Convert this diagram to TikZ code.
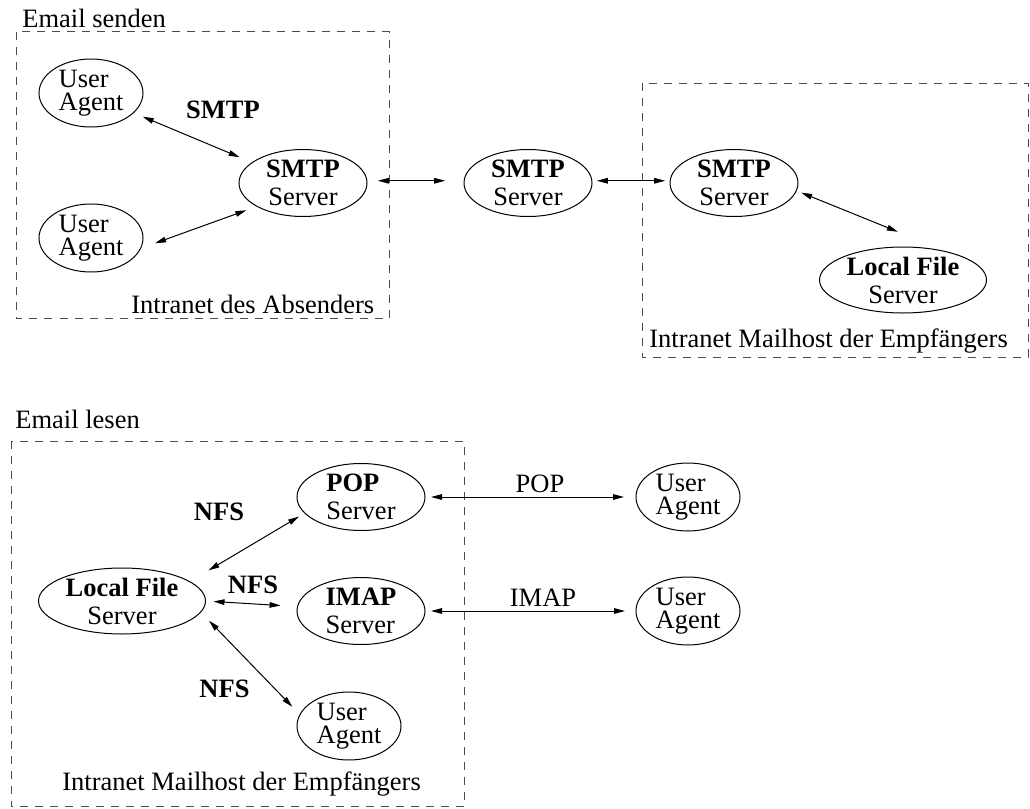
\documentclass[tikz,border=0pt]{standalone}
\usepackage{fontspec}
\setmainfont{Liberation Serif}
\usetikzlibrary{arrows.meta,shapes.geometric}

\begin{document}
\begin{tikzpicture}[x=0.5pt, y=-0.5pt,
  font=\fontsize{13.25pt}{11.7pt}\selectfont,
  oval/.style={ellipse, draw, line width=0.5pt, inner sep=0pt, outer sep=0pt},
  agent/.style={oval, minimum width=52pt, minimum height=34pt, align=left},
  server/.style={oval, minimum width=64pt, minimum height=33.5pt, align=center},
  mailbox/.style={server, align=left},
  filesrv/.style={oval, minimum width=83.5pt, minimum height=33pt, align=center},
  zone/.style={draw=black!70, line width=0.5pt, dash pattern=on 4pt off 3.5pt},
  link/.style={line width=0.5pt, {Triangle[length=5.5pt,width=2.8pt]}-{Triangle[length=5.5pt,width=2.8pt]}},
  proto/.style={anchor=base, inner sep=0pt},
  boxlabel/.style={anchor=base west, inner sep=0pt}
]
\useasboundingbox (0,0) rectangle (1030,809);

\draw[zone] (16,31.5) rectangle (389,318);
\node[boxlabel] (sendtitle) at (22,27) {Email senden};
\node[boxlabel] (sendzone) at (131,313) {Intranet des Absenders};

\node[agent] (ua1) at (91,93) {User\\Agent};
\node[agent] (ua2) at (91,238) {User\\Agent};
\node[server] (smtpa) at (303,183) {\textbf{SMTP}\\[2.3pt]Server};
\node[server] (smtpb) at (528,183) {\textbf{SMTP}\\[2.3pt]Server};
\node[server] (smtpc) at (734,183) {\textbf{SMTP}\\[2.3pt]Server};
\node[filesrv] (lfsa) at (903,280) {\textbf{Local File}\\[2.3pt]Server};
\node[proto] (smtplbl) at (223,118) {\textbf{SMTP}};

\draw[zone] (642,83) rectangle (1028,357);
\node[boxlabel] (recvzone) at (649,347) {Intranet Mailhost der Empfängers};

\draw[link, shorten <=5.1pt, shorten >=6.9pt] (ua1.-25) -- (smtpa.158);
\draw[link, shorten <=7.75pt, shorten >=5.7pt] (ua2.-12) -- (smtpa.-153.5);
\draw[link, shorten <=5.5pt, shorten >=9.5pt] (smtpa.2) -- (smtpb.178);
\draw[link, shorten <=2.5pt, shorten >=2.5pt] (smtpb.2) -- (smtpc.178);
\draw[link, shorten <=2.65pt, shorten >=27.5pt] (smtpc.-7) -- (lfsa.31);

\draw[zone] (11,441) rectangle (464,806.5);
\node[boxlabel] (readtitle) at (15,428) {Email lesen};
\node[boxlabel] (readzone) at (62,790) {Intranet Mailhost der Empfängers};

\node[filesrv] (lfsb) at (122,601) {\textbf{Local File}\\[2.3pt]Server};
\node[mailbox] (pop) at (361,497) {\textbf{POP}\\[2.3pt]Server};
\node[mailbox] (imap) at (361,611) {\textbf{IMAP}\\[2.3pt]Server};
\node[agent] (ua3) at (349,726) {User\\Agent};
\node[agent] (ua4) at (688,497) {User\\Agent};
\node[agent] (ua5) at (688,611) {User\\Agent};
\node[proto] (nfsa) at (219,520) {\textbf{NFS}};
\node[proto] (nfsb) at (253,593) {\textbf{NFS}};
\node[proto] (nfsc) at (224.5,697) {\textbf{NFS}};
\node[proto] (poplbl) at (540,492) {POP};
\node[proto] (imaplbl) at (543,606) {IMAP};

\draw[link, shorten <=11pt, shorten >=3.4pt] (lfsb.16.7) -- (pop.-164.8);
\draw[link, shorten <=4pt, shorten >=8.5pt] (lfsb.0) -- (imap.176.4);
\draw[link, shorten <=6pt, shorten >=5.5pt] (lfsb.-8) -- (ua3.167);
\draw[link, shorten <=3pt, shorten >=6pt] (pop) -- (ua4);
\draw[link, shorten <=3pt, shorten >=5.5pt] (imap) -- (ua5);
\end{tikzpicture}
\end{document}
